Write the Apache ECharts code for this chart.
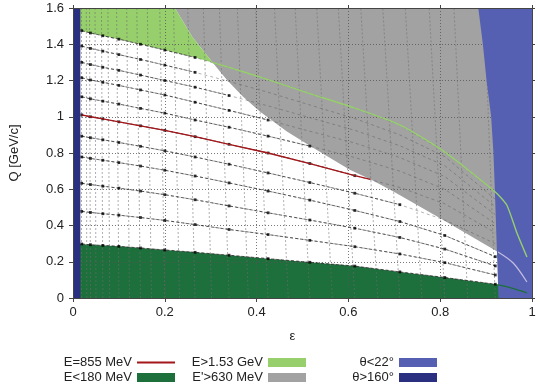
<!DOCTYPE html>
<html>
<head>
<meta charset="utf-8">
<script src="https://cdn.jsdelivr.net/npm/echarts@6/dist/echarts.min.js"></script>
<style>
html,body{margin:0;padding:0;background:#fff}
#main{width:540px;height:386px}
</style>
</head>
<body>
<div id="main"></div>
<script>
// epsilon positions where the beam-energy lines are sampled (dots sit here)
var eps = [0.019, 0.038, 0.065, 0.1, 0.147, 0.2, 0.266, 0.34, 0.425, 0.516, 0.614, 0.712, 0.81, 0.92];

// Q [GeV/c] of each constant beam energy line at the eps above
var q1530 = [1.475, 1.462, 1.447, 1.428, 1.4, 1.368, 1.327, 1.272, 1.205, 1.128, 1.048, 0.955, 0.805, 0.585];
var q1390 = [1.39, 1.377, 1.362, 1.343, 1.316, 1.285, 1.245, 1.195, 1.135, 1.065, 0.99, 0.9, 0.78, 0.545];
var q1300 = [1.30, 1.288, 1.273, 1.256, 1.23, 1.2, 1.163, 1.117, 1.06, 0.995, 0.925, 0.84, 0.73, 0.505];
var q1215 = [1.215, 1.203, 1.19, 1.173, 1.148, 1.12, 1.08, 1.035, 0.982, 0.92, 0.855, 0.775, 0.67, 0.46];
var q1110 = [1.11, 1.099, 1.086, 1.07, 1.046, 1.02, 0.982, 0.942, 0.893, 0.838, 0.775, 0.7, 0.6, 0.41];
var q855  = [1.01, 1.0, 0.988, 0.972, 0.95, 0.925, 0.89, 0.848, 0.8, 0.742, 0.675, 0.61, 0.52, 0.36];
var q895  = [0.893, 0.884, 0.873, 0.858, 0.837, 0.812, 0.778, 0.738, 0.69, 0.637, 0.578, 0.515, 0.43, 0.30];
var q780  = [0.778, 0.77, 0.76, 0.747, 0.728, 0.705, 0.673, 0.635, 0.59, 0.54, 0.483, 0.422, 0.345, 0.228];
var q635  = [0.633, 0.626, 0.617, 0.606, 0.59, 0.57, 0.542, 0.508, 0.47, 0.43, 0.385, 0.334, 0.27, 0.177];
var q480  = [0.478, 0.472, 0.465, 0.457, 0.444, 0.428, 0.405, 0.378, 0.35, 0.318, 0.283, 0.243, 0.195, 0.127];
var q180  = [0.298, 0.294, 0.29, 0.285, 0.276, 0.265, 0.252, 0.236, 0.217, 0.197, 0.176, 0.144, 0.113, 0.076];
var eLines = [q1530, q1390, q1300, q1215, q1110, q855, q895, q780, q635, q480, q180];
// how many points of each line lie in the allowed (white) region
var dotCount = [7, 7, 8, 9, 10, 11, 12, 14, 14, 14, 14];

// constant scattering angle lines: eps at Q=0 and at Q=1.6
var thetaBot = [0.019,0.03,0.038,0.05,0.065,0.08,0.1,0.123,0.147,0.171,0.2,0.232,0.266,0.302,0.34,0.382,0.425,0.469,0.516,0.565,0.614,0.664,0.712,0.76,0.81,0.86,0.92];
var thetaTop = [0.018,0.029,0.036,0.048,0.062,0.076,0.095,0.117,0.139,0.162,0.189,0.219,0.25,0.284,0.319,0.358,0.398,0.439,0.484,0.531,0.578,0.627,0.675,0.724,0.776,0.83,0.896];

// region borders
var redEnd = [0.648, 0.655];
var grayEps = [0.222, 0.26, 0.305, 0.335, 0.37, 0.407, 0.466, 0.523, 0.603, 0.65, 0.7, 0.8, 0.926];
var grayQ   = [1.6, 1.44, 1.297, 1.204, 1.112, 1.029, 0.919, 0.829, 0.707, 0.652, 0.585, 0.44, 0.254];
var blueEps = [0.883, 0.893, 0.901, 0.911, 0.916, 0.919, 0.923, 0.927];
var blueQ   = [1.6, 1.4, 1.2, 1.0, 0.8, 0.6, 0.3, 0];
var backEps = 0.016;
var greenJoin = [0.303, 1.30];
var greenTailEps = [0.945, 0.967, 0.989];
var greenTailQ   = [0.513, 0.36, 0.226];
var grayTailEps = [0.926, 0.959, 0.989];
var grayTailQ   = [0.254, 0.193, 0.088];
var lowTailEps = [0.926, 0.96, 0.989];
var lowTailQ   = [0.072, 0.052, 0.028];

var C_DKGREEN = '#1d6f3b', C_LTGREEN = '#96cf6c', C_GRAY = '#a2a2a2', C_BLUE = '#5560b3', C_DKBLUE = '#2b2f7f', C_RED = '#a4161a';

function zip(xs, ys) { return xs.map(function (x, i) { return [x, ys[i]]; }); }
function linePts(qs, n) { return zip(eps.slice(0, n), qs.slice(0, n)); }

var grayPts = zip(grayEps, grayQ);
var bluePts = zip(blueEps, blueQ);

function poly(name, color, z, pts) {
    return {
        name: name, type: 'custom', z: z, silent: true,
        itemStyle: { color: color },
        data: [0],
        renderItem: function (params, api) {
            return { type: 'polygon', shape: { points: pts.map(function (p) { return api.coord(p); }) },
                     style: { fill: color } };
        }
    };
}

var series = [];
// dark green: E<180 MeV
series.push(poly('E<180 MeV', C_DKGREEN, 1,
    [[0, 0], [0, q180[0]]].concat(linePts(q180, 14), [[1, q180[13]], [1, 0]])));
// gray: E'>630 MeV (right side is hidden under the blue band)
series.push(poly("E'>630 MeV", C_GRAY, 1,
    grayPts.concat([[1, grayQ[grayQ.length - 1]], [1, 1.6]])));
// light green: E>1.53 GeV
series.push(poly('E>1.53 GeV', C_LTGREEN, 1,
    [[0, 1.6], [0, q1530[0]]].concat(linePts(q1530, 7), [greenJoin], grayPts.slice(0, 3).reverse())));

// theta lines
series.push({
    type: 'lines', coordinateSystem: 'cartesian2d', z: 3, silent: true, polyline: false,
    lineStyle: { color: '#6e6e6e', width: 0.7, type: [2, 2], opacity: 0.8 },
    data: thetaBot.map(function (b, i) { return { coords: [[b, 0], [thetaTop[i], 1.6]] }; })
});
// beam energy lines: full length (faint), allowed part (darker)
eLines.forEach(function (qs, i) {
    series.push({
        type: 'line', z: 3, silent: true, symbol: 'none',
        lineStyle: { color: '#555', width: 0.6, type: [3, 3], opacity: 0.75 },
        data: linePts(qs, 14)
    });
    series.push({
        type: 'line', z: 3, silent: true, symbol: 'none',
        lineStyle: { color: '#222', width: 0.7, type: [3, 2] },
        data: linePts(qs, dotCount[i])
    });
});
// dots in the allowed region
var dots = [];
eLines.forEach(function (qs, i) { dots = dots.concat(linePts(qs, dotCount[i])); });
series.push({
    type: 'scatter', z: 3, silent: true, symbol: 'rect', symbolSize: 2.8,
    itemStyle: { color: '#000' }, data: dots
});
// red line E=855 MeV
series.push({
    name: 'E=855 MeV', type: 'line', z: 4, silent: true, symbol: 'none',
    lineStyle: { color: C_RED, width: 1.3 }, itemStyle: { color: C_RED },
    data: linePts(q855, 11).concat([redEnd])
});
// light green line continuing E=1.53 GeV
series.push({
    type: 'line', z: 5, silent: true, symbol: 'none', smooth: 0.2,
    lineStyle: { color: C_LTGREEN, width: 1.4 },
    data: [greenJoin].concat(zip(eps.slice(7), q1530.slice(7)), zip(greenTailEps, greenTailQ))
});
// blue regions
series.push(poly('θ<22°', C_BLUE, 4, bluePts.concat([[1, 0], [1, 1.6]])));
series.push(poly('θ>160°', C_DKBLUE, 4, [[0, 0], [backEps, 0], [backEps, 1.6], [0, 1.6]]));
// tails inside blue
series.push({
    type: 'line', z: 5, silent: true, symbol: 'none', smooth: 0.3,
    lineStyle: { color: '#c4bde0', width: 1.2 }, data: zip(grayTailEps, grayTailQ)
});
series.push({
    type: 'line', z: 5, silent: true, symbol: 'none', smooth: 0.3,
    lineStyle: { color: C_DKGREEN, width: 1.3 }, data: zip(lowTailEps, lowTailQ)
});

var font = { fontFamily: 'Liberation Sans, Arial, sans-serif', fontSize: 13, color: '#222' };
var frame = { show: true, onZero: false, lineStyle: { color: '#444', width: 1 } };
var grid = { show: true, lineStyle: { color: '#555', width: 0.8, type: [1, 2] } };
function valAxis(min, max, pos, z, extra) {
    return Object.assign({ type: 'value', min: min, max: max, interval: 0.2, position: pos, z: z,
        axisLine: { show: false }, axisTick: { show: false }, axisLabel: { show: false },
        splitLine: { show: false } }, extra);
}

// one legend per entry, text left of the key
var legendCells = [
    { name: 'E=855 MeV', icon: 'path://M0,0H40V2H0Z', right: 365, top: 356 },
    { name: 'E<180 MeV', icon: 'rect', right: 365, top: 371 },
    { name: 'E>1.53 GeV', icon: 'rect', right: 234, top: 356 },
    { name: "E'>630 MeV", icon: 'rect', right: 234, top: 371 },
    { name: 'θ<22°', icon: 'rect', right: 103, top: 356 },
    { name: 'θ>160°', icon: 'rect', right: 103, top: 371 }
];
var legends = legendCells.map(function (c) {
    return { right: c.right, top: c.top, orient: 'horizontal', align: 'right', itemWidth: 38, itemHeight: 9,
             padding: 0, textStyle: font, selectedMode: false,
             data: [{ name: c.name, icon: c.icon }] };
});

var option = {
    animation: false,
    grid: { left: 73, right: 8, top: 8, bottom: 88 },
    xAxis: [
        valAxis(0, 1, 'bottom', 6, {
            axisLine: frame, axisTick: { show: true, length: 4, lineStyle: { color: '#444' } },
            axisLabel: Object.assign({ show: true, margin: 8 }, font),
            name: 'ε', nameLocation: 'middle', nameGap: 32,
            nameTextStyle: Object.assign({ padding: [0, 20, 0, 0] }, font)
        }),
        valAxis(0, 1, 'bottom', 2, { splitLine: grid }),
        valAxis(0, 1, 'top', 6, { axisLine: frame, axisTick: { show: true, length: 3, lineStyle: { color: '#444' } } })
    ],
    yAxis: [
        valAxis(0, 1.6, 'left', 6, {
            axisLine: frame, axisTick: { show: true, length: 4, lineStyle: { color: '#444' } },
            axisLabel: Object.assign({ show: true, margin: 9 }, font),
            name: 'Q [GeV/c]', nameLocation: 'middle', nameGap: 52, nameRotate: 90,
            nameTextStyle: font
        }),
        valAxis(0, 1.6, 'left', 2, { splitLine: grid }),
        valAxis(0, 1.6, 'right', 6, { axisLine: frame, axisTick: { show: true, length: 3, lineStyle: { color: '#444' } } })
    ],
    legend: legends,
    series: series
};

var myChart = echarts.init(document.getElementById('main'));
myChart.setOption(option);
</script>
</body>
</html>
